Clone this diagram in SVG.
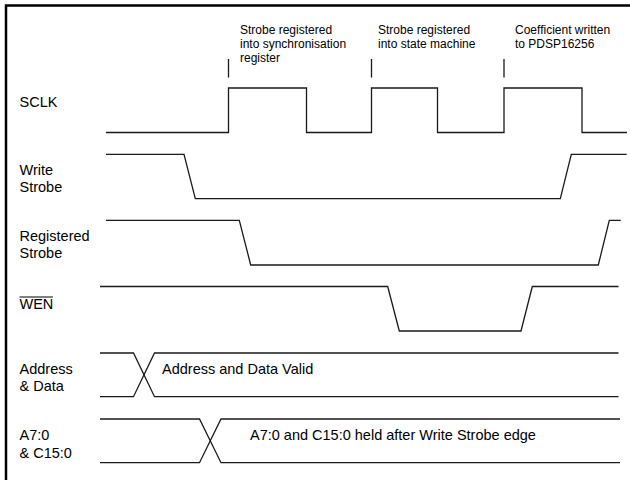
<svg xmlns="http://www.w3.org/2000/svg" width="630" height="480" viewBox="0 0 630 480">
<style>
.sig{fill:none;stroke:#1a1a1a;stroke-width:1.3;stroke-linejoin:miter}
.lbl{font-family:"Liberation Sans",Arial,sans-serif;font-size:14.5px;fill:#000}
.ann{font-family:"Liberation Sans",Arial,sans-serif;font-size:12px;fill:#000}
.frame{fill:none;stroke:#000;stroke-width:2.5}
</style>
<rect width="630" height="480" fill="#fff"/>
<path class="frame" d="M6,480 V5.5 H630"/>
<g id="annotations">
<text class="ann" x="240" y="34">Strobe registered</text>
<text class="ann" x="240" y="48">into synchronisation</text>
<text class="ann" x="240" y="62">register</text>
<text class="ann" x="378" y="34">Strobe registered</text>
<text class="ann" x="378" y="48">into state machine</text>
<text class="ann" x="515" y="34">Coefficient written</text>
<text class="ann" x="515" y="48">to PDSP16256</text>
</g>
<g id="labels">
<text class="lbl" x="19.5" y="107">SCLK</text>
<text class="lbl" x="19.5" y="174.5">Write</text>
<text class="lbl" x="19.5" y="192">Strobe</text>
<text class="lbl" x="19.5" y="241.3">Registered</text>
<text class="lbl" x="19.5" y="257.6">Strobe</text>
<text class="lbl" x="19.5" y="308.6">WEN</text>
<line x1="19.5" y1="297" x2="53" y2="297" stroke="#000" stroke-width="1"/>
<text class="lbl" x="19.5" y="373.6">Address</text>
<text class="lbl" x="19.5" y="391.3">&amp; Data</text>
<text class="lbl" x="19.5" y="440.3">A7:0</text>
<text class="lbl" x="19.5" y="458">&amp; C15:0</text>
</g>
<g id="connectors">
<g id="ticks">
<line class="sig" x1="228.5" y1="59" x2="228.5" y2="77.5"/>
<line class="sig" x1="371.5" y1="59" x2="371.5" y2="77.5"/>
<line class="sig" x1="504" y1="59" x2="504" y2="77.5"/>
</g>
<path id="sclk" class="sig" d="M106,132.5 H228.5 V88 H306.5 V132.5 H371.5 V88 H437.5 V132.5 H504 V88 H582 V132.5 H627"/>
<path id="write-strobe" class="sig" d="M106,154.3 H184 L195.3,198.7 H560.3 L571.3,154.3 H626.7"/>
<path id="registered-strobe" class="sig" d="M106,220.3 H239.3 L250.7,265 H598.3 L609.3,220.3 H620.7"/>
<path id="wen" class="sig" d="M100,286.5 H387.7 L399.3,331 H521 L532.3,286.5 H618.5"/>
<path id="addr-top" class="sig" d="M100,353 H133.5 L154.5,396.7 H618.5"/>
<path id="addr-bot" class="sig" d="M100,396.7 H133.5 L154.5,353 H618.5"/>
<path id="a7-top" class="sig" d="M100,419 H199.5 L221,462.7 H620"/>
<path id="a7-bot" class="sig" d="M100,462.7 H199.5 L221,419 H620"/>
</g>
<g id="signal-text">
<text class="lbl" x="162" y="373.6">Address and Data Valid</text>
<text class="lbl" x="250" y="440.3">A7:0 and C15:0 held after Write Strobe edge</text>
</g>
</svg>
